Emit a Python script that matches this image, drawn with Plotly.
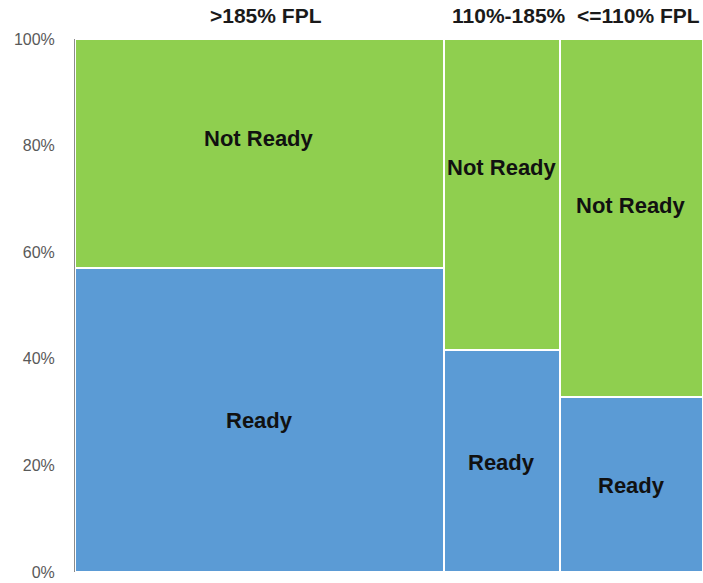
import plotly.graph_objects as go

categories = [">185% FPL", "110%-185%", "<=110% FPL"]
col_share = [0.587, 0.185, 0.228]
ready = [57.0, 41.6, 32.8]
not_ready = [100 - r for r in ready]
ready_label_y = [28.5, 20.6, 16.3]
not_ready_label_y = [81.4, 75.8, 68.7]
y_ticks = [0, 20, 40, 60, 80, 100]
y_tick_text = ["0%", "20%", "40%", "60%", "80%", "100%"]

GREEN = "#8fcf4f"
BLUE = "#5b9bd5"
FONT = "Liberation Sans, Arial, sans-serif"

lefts = []
acc = 0.0
for s in col_share:
    lefts.append(acc)
    acc += s
centers = [l + s / 2 for l, s in zip(lefts, col_share)]

fig = go.Figure()
fig.add_trace(go.Bar(
    x=centers, y=ready, width=col_share, base=0,
    marker=dict(color=BLUE, line=dict(color="white", width=2)),
    name="Ready", hoverinfo="skip",
))
fig.add_trace(go.Bar(
    x=centers, y=not_ready, width=col_share, base=ready,
    marker=dict(color=GREEN, line=dict(color="white", width=2)),
    name="Not Ready", hoverinfo="skip",
))

ann = []
for c, cat in zip(centers, categories):
    ann.append(dict(x=c, xref="x", y=1, yref="paper", yshift=24, xshift=7, yanchor="middle",
                    text=f"<b>{cat}</b>", showarrow=False,
                    font=dict(family=FONT, size=21, color="#1a1a1a")))
for c, ry, ny in zip(centers, ready_label_y, not_ready_label_y):
    ann.append(dict(x=c, y=ry, xref="x", yref="y", text="<b>Ready</b>", showarrow=False,
                    font=dict(family=FONT, size=22, color="#111111")))
    ann.append(dict(x=c, y=ny, xref="x", yref="y", text="<b>Not Ready</b>", showarrow=False,
                    font=dict(family=FONT, size=22, color="#111111")))

fig.update_layout(
    width=703, height=583,
    margin=dict(l=75, r=0, t=39, b=11),
    paper_bgcolor="white", plot_bgcolor="white",
    barmode="overlay", bargap=0, showlegend=False,
    annotations=ann,
    xaxis=dict(range=[0, 1.0], visible=False, fixedrange=True),
    yaxis=dict(range=[0, 100], tickmode="array", tickvals=y_ticks, ticktext=y_tick_text,
               showgrid=False, zeroline=False, showline=True,
               linecolor="#8c8c8c", linewidth=1, ticks="",
               ticklabelstandoff=16, fixedrange=True,
               tickfont=dict(family=FONT, size=16, color="#595959")),
)

fig.write_html("out.html", config={"displayModeBar": False},
               post_script="document.body.style.margin='0';document.body.style.overflow='hidden';")
